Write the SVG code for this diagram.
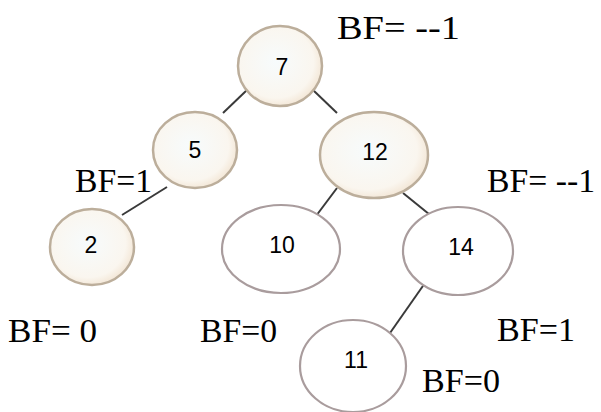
<svg xmlns="http://www.w3.org/2000/svg" width="601" height="412" viewBox="0 0 601 412">
<style>
.bf{font-family:"Liberation Serif","DejaVu Serif",serif;font-size:34px;fill:#000}
.num{font-family:"Liberation Sans","Open Sans",sans-serif;font-size:23px;fill:#000;text-anchor:middle}
.full{fill:url(#g);stroke:#bcae9b;stroke-width:2.5}
.empty{fill:#fff;stroke:#a99c9d;stroke-width:2.2}
.edge{stroke:#3a3a3a;stroke-width:2}
</style>
<defs>
<radialGradient id="g" cx="0.45" cy="0.45" r="0.6">
<stop offset="0" stop-color="#f7fbfc"/>
<stop offset="0.75" stop-color="#faf6ef"/>
<stop offset="1" stop-color="#f1e2cf"/>
</radialGradient>
</defs>
<rect width="601" height="412" fill="#fff"/>
<g id="connectors">
<line class="edge" x1="247" y1="90" x2="223" y2="113"/>
<line class="edge" x1="313" y1="90" x2="337" y2="113"/>
<line class="edge" x1="167" y1="187" x2="122" y2="215"/>
<line class="edge" x1="337" y1="188" x2="313" y2="220"/>
<line class="edge" x1="403" y1="193" x2="440" y2="223"/>
<line class="edge" x1="425" y1="283" x2="390" y2="333"/>
</g>
<g id="n7"><ellipse class="full" cx="280" cy="66" rx="42" ry="40"/><text class="num" x="282" y="75">7</text></g>
<g id="n5"><ellipse class="full" cx="195" cy="150" rx="42" ry="38"/><text class="num" x="195" y="158">5</text></g>
<g id="n12"><ellipse class="full" cx="374" cy="155" rx="54" ry="43"/><text class="num" x="375" y="160">12</text></g>
<g id="n2"><ellipse class="full" cx="92" cy="247" rx="42" ry="38"/><text class="num" x="91" y="253">2</text></g>
<g id="n10"><ellipse class="empty" cx="281" cy="249" rx="59" ry="44"/><text class="num" x="282" y="253">10</text></g>
<g id="n14"><ellipse class="empty" cx="458" cy="251" rx="55" ry="44"/><text class="num" x="461" y="255">14</text></g>
<g id="n11"><ellipse class="empty" cx="353" cy="366" rx="53" ry="46"/><text class="num" x="356" y="368">11</text></g>
<g id="labels">
<text class="bf" x="337" y="39" textLength="123" lengthAdjust="spacingAndGlyphs">BF= --1</text>
<text class="bf" x="75" y="192" textLength="77" lengthAdjust="spacingAndGlyphs">BF=1</text>
<text class="bf" x="487" y="192" textLength="108" lengthAdjust="spacingAndGlyphs">BF= --1</text>
<text class="bf" x="8" y="342" textLength="89" lengthAdjust="spacingAndGlyphs">BF= 0</text>
<text class="bf" x="200" y="342" textLength="77" lengthAdjust="spacingAndGlyphs">BF=0</text>
<text class="bf" x="497" y="341" textLength="78" lengthAdjust="spacingAndGlyphs">BF=1</text>
<text class="bf" x="422" y="392" textLength="78" lengthAdjust="spacingAndGlyphs">BF=0</text>
</g>
</svg>
